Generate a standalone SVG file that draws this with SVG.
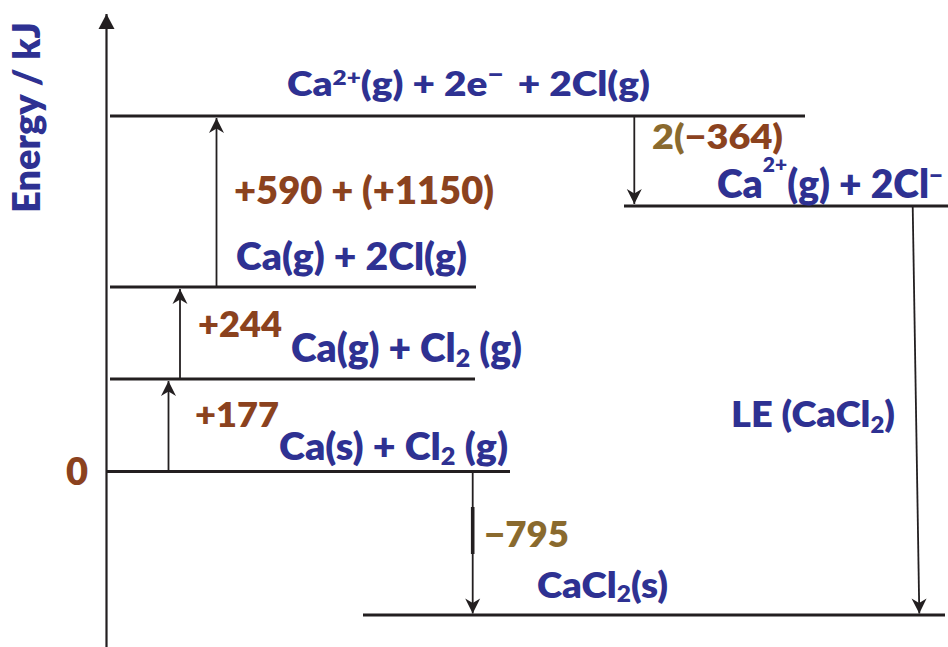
<svg xmlns="http://www.w3.org/2000/svg" width="948" height="647" viewBox="0 0 948 647">
<style>
text { font-family: Lato, "Liberation Sans", sans-serif; font-weight: 800; }
.b { fill: #2E3192; }
.r { fill: #8B421E; }
.o { fill: #8A6A2E; }
.lvl { stroke: #231F20; stroke-width: 3; fill: none; }
.ar { stroke: #231F20; stroke-width: 1.8; fill: none; }
</style>
<defs>
<marker id="ah" markerUnits="userSpaceOnUse" markerWidth="20" markerHeight="20" viewBox="-16 -10 20 20" refX="0" refY="0" orient="auto">
<path d="M0,0 L-15,-7.5 L-10.5,0 L-15,7.5 Z" fill="#231F20"/>
</marker>
<marker id="axh" markerUnits="userSpaceOnUse" markerWidth="20" markerHeight="20" viewBox="-16 -10 20 20" refX="0" refY="0" orient="auto">
<path d="M0,0 L-15,-8 L-15,8 Z" fill="#231F20"/>
</marker>
</defs>

<g id="axis">
<line x1="106.5" y1="647" x2="106.5" y2="14" stroke="#231F20" stroke-width="2.2" marker-end="url(#axh)"/>
<text class="b" transform="translate(40,213) rotate(-90)" font-size="37" textLength="191" lengthAdjust="spacingAndGlyphs">Energy / kJ</text>
</g>

<g id="level-ca2-2e-2cl">
<line class="lvl" x1="110" y1="116" x2="805" y2="116"/>
<text class="b" x="287" y="96" font-size="33.5" textLength="363" lengthAdjust="spacingAndGlyphs">Ca<tspan font-size="21" dy="-11">2+</tspan><tspan dy="11">(g) + 2e</tspan><tspan font-size="24" dy="-13">−</tspan><tspan dy="13" dx="12">+ 2Cl(g)</tspan></text>
</g>

<g id="level-ca2-2cl-">
<line class="lvl" x1="624" y1="206" x2="948" y2="206"/>
<text class="b" x="717" y="198" font-size="39" textLength="226" lengthAdjust="spacingAndGlyphs">Ca<tspan font-size="21" dy="-26">2+</tspan><tspan dy="26">(g) + 2Cl</tspan><tspan font-size="24" dy="-14">−</tspan></text>
</g>

<g id="level-cag-2clg">
<line class="lvl" x1="110" y1="287" x2="476" y2="287"/>
<text class="b" x="236" y="270" font-size="37.5" textLength="231" lengthAdjust="spacingAndGlyphs">Ca(g) + 2Cl(g)</text>
</g>

<g id="level-cag-cl2g">
<line class="lvl" x1="110" y1="379" x2="475" y2="379"/>
<text class="b" x="291" y="361.5" font-size="39" textLength="231" lengthAdjust="spacingAndGlyphs">Ca(g) + Cl<tspan font-size="25" dy="5">2</tspan><tspan dy="-5"> (g)</tspan></text>
</g>

<g id="level-cas-cl2g">
<line class="lvl" x1="107" y1="471.5" x2="510" y2="471.5"/>
<text class="b" x="279" y="460" font-size="37.5" textLength="229" lengthAdjust="spacingAndGlyphs">Ca(s) + Cl<tspan font-size="24" dy="5">2</tspan><tspan dy="-5"> (g)</tspan></text>
<text class="r" x="66" y="485" font-size="38">0</text>
</g>

<g id="level-cacl2s">
<line class="lvl" x1="363" y1="615" x2="945" y2="615" stroke-width="2.4"/>
<text class="b" x="537" y="598" font-size="36" textLength="131" lengthAdjust="spacingAndGlyphs">CaCl<tspan font-size="23" dy="4">2</tspan><tspan dy="-4">(s)</tspan></text>
</g>

<g id="connectors">
<line class="ar" x1="168.5" y1="471" x2="168.5" y2="381" marker-end="url(#ah)"/>
<line class="ar" x1="180" y1="379" x2="180" y2="289" marker-end="url(#ah)"/>
<line class="ar" x1="216.5" y1="287" x2="216.5" y2="118" marker-end="url(#ah)"/>
<line class="ar" x1="634.3" y1="116" x2="634.3" y2="204" marker-end="url(#ah)"/>
<line class="ar" x1="472.7" y1="471" x2="472.7" y2="613.5" marker-end="url(#ah)"/>
<line x1="472.7" y1="507" x2="472.7" y2="554" stroke="#231F20" stroke-width="3.6"/>
<line class="ar" x1="912.7" y1="206" x2="919.3" y2="613.5" marker-end="url(#ah)"/>
</g>

<g id="labels">
<text class="r" x="234" y="203.5" font-size="37" textLength="260" lengthAdjust="spacingAndGlyphs">+590 + (+1150)</text>
<text class="r" x="198" y="336.5" font-size="35" textLength="84" lengthAdjust="spacingAndGlyphs">+244</text>
<text class="r" x="195" y="427" font-size="34" textLength="84" lengthAdjust="spacingAndGlyphs">+177</text>
<text x="652" y="149" font-size="33.5" textLength="131" lengthAdjust="spacingAndGlyphs"><tspan class="o">2(</tspan><tspan class="r">−364)</tspan></text>
<text class="o" x="484" y="547" font-size="35.5" textLength="85" lengthAdjust="spacingAndGlyphs">−795</text>
<text class="b" x="731" y="426.7" font-size="35" textLength="164" lengthAdjust="spacingAndGlyphs">LE (CaCl<tspan font-size="22" dy="6">2</tspan><tspan dy="-6">)</tspan></text>
</g>
</svg>
